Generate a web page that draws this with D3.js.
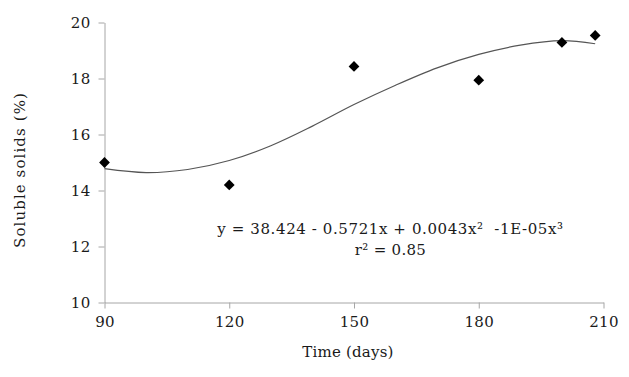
<!DOCTYPE html>
<html>
<head>
<meta charset="utf-8">
<script src="https://cdn.jsdelivr.net/npm/d3@7"></script>
<style>
  body { margin: 0; background: #fff; }
  text { font-family: "DejaVu Serif", "Liberation Serif", serif; fill: #1a1a1a; }
</style>
</head>
<body>
<div id="chart"></div>
<script>
// observed points (days, soluble solids %)
const days = [90, 120, 150, 180, 200, 208];
const solids = [15.0, 14.2, 18.43, 17.94, 19.29, 19.54];

// trend line
const trendDays = [90, 100, 110, 120, 130, 140, 150, 160, 170, 180, 190, 200, 208];
const trendVals = [14.78, 14.64, 14.75, 15.07, 15.6, 16.3, 17.07, 17.76, 18.38, 18.86, 19.19, 19.35, 19.24];

const xTicks = [90, 120, 150, 180, 210];
const yTicks = [10, 12, 14, 16, 18, 20];

const eqLine1 = "y = 38.424 - 0.5721x + 0.0043x\u00B2  -1E-05x\u00B3";
const eqLine2 = "r\u00B2 = 0.85";

var svg = d3.select("#chart").append("svg")
    .attr("width", 629)
    .attr("height", 377);

//scales
var x = d3.scaleLinear().domain([90, 210]).range([104.5, 603.5]);
var y = d3.scaleLinear().domain([10, 20]).range([302.5, 22.5]);

//x axis
var xAxis = svg.append("g")
    .attr("transform", "translate(0,302.5)")
    .call(d3.axisBottom(x).tickValues(xTicks).tickSize(6).tickSizeOuter(0).tickPadding(8));

//y axis
var yAxis = svg.append("g")
    .attr("transform", "translate(104.5,0)")
    .call(d3.axisLeft(y).tickValues(yTicks).tickSize(6).tickSizeOuter(0).tickPadding(8));

[xAxis, yAxis].forEach(function(a) {
    a.select(".domain").attr("stroke", "#a6a6a6");
    a.selectAll(".tick line").attr("stroke", "#a6a6a6");
    a.selectAll(".tick text")
        .style("font-family", "DejaVu Serif")
        .style("font-size", "15px")
        .style("letter-spacing", "0.3px")
        .attr("fill", "#1a1a1a");
});

//axis titles
svg.append("text")
    .attr("x", 348)
    .attr("y", 357)
    .attr("text-anchor", "middle")
    .style("font-size", "15px")
    .style("letter-spacing", "0.2px")
    .text("Time (days)");

svg.append("text")
    .attr("transform", "translate(25,170) rotate(-90)")
    .attr("text-anchor", "middle")
    .style("font-size", "15px")
    .style("letter-spacing", "1.1px")
    .text("Soluble solids (%)");

//trend line
var line = d3.line()
    .x(function(d, i) { return x(trendDays[i]); })
    .y(function(d) { return y(d); })
    .curve(d3.curveCatmullRom);

svg.append("path")
    .datum(trendVals)
    .attr("d", line)
    .attr("fill", "none")
    .attr("stroke", "#555")
    .attr("stroke-width", 1.2);

//diamonds
svg.append("g")
    .selectAll("path")
    .data(days)
    .enter()
    .append("path")
    .attr("d", d3.symbol().type(d3.symbolSquare).size(58))
    .attr("transform", function(d, i) {
        return "translate(" + x(d) + "," + y(solids[i]) + ") rotate(45)";
    })
    .attr("fill", "#000");

//equation (keep the double space)
svg.append("text")
    .attr("x", 390.5)
    .attr("y", 234)
    .attr("text-anchor", "middle")
    .style("font-size", "15px")
    .style("letter-spacing", "0.6px")
    .style("white-space", "pre")
    .text(eqLine1);

svg.append("text")
    .attr("x", 390.5)
    .attr("y", 255)
    .attr("text-anchor", "middle")
    .style("font-size", "15px")
    .style("letter-spacing", "0.3px")
    .text(eqLine2);
</script>
</body>
</html>
